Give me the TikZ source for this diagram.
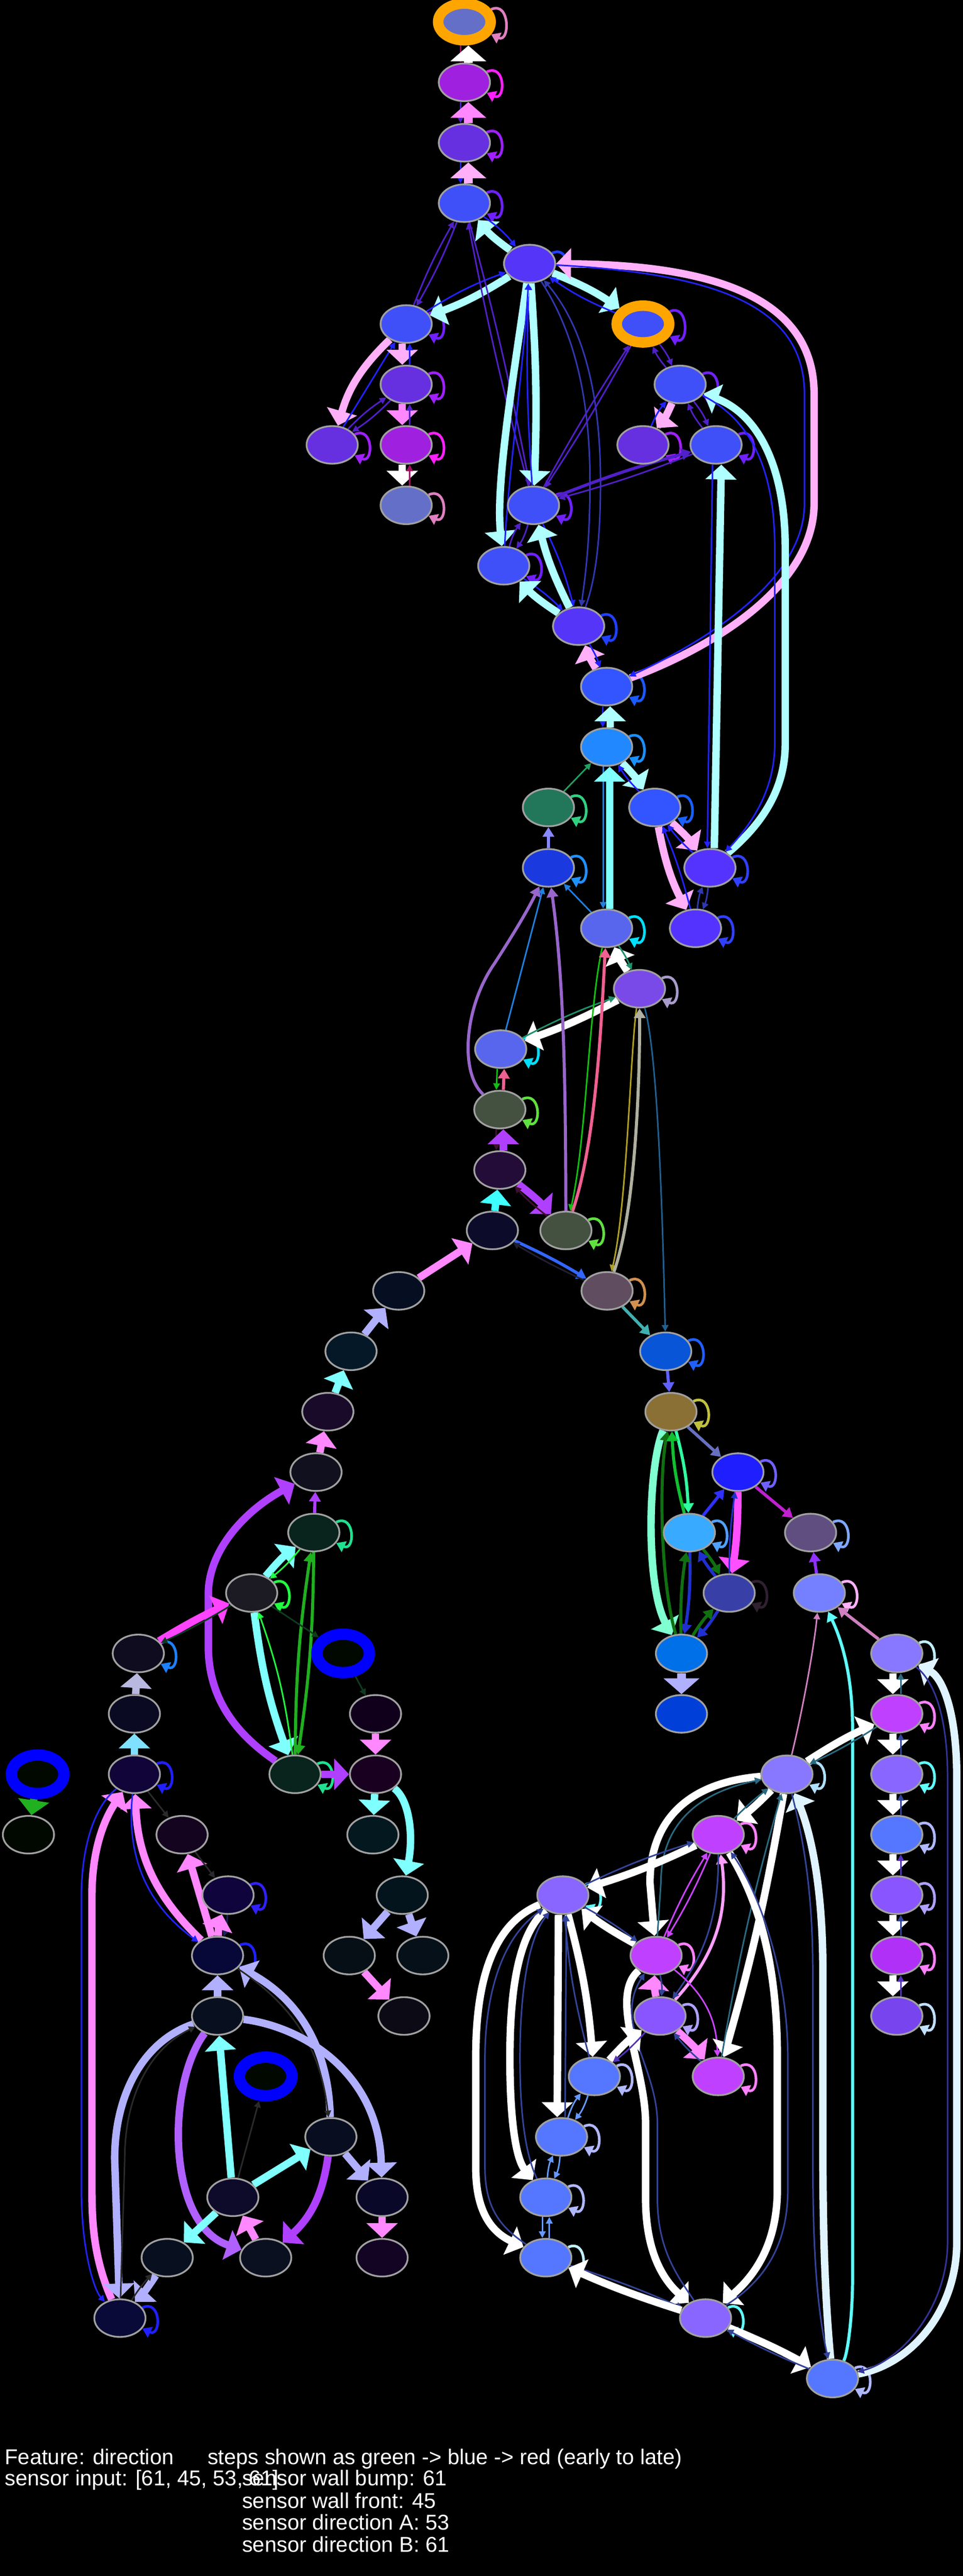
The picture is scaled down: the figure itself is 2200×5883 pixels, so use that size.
\documentclass[tikz,border=0pt]{standalone}
\usepackage{fontspec}
\setmainfont{Liberation Sans}
\usetikzlibrary{shapes.geometric,arrows.meta}
\pgfdeclarelayer{back}
\pgfdeclarelayer{bg}
\pgfsetlayers{back,bg,main}
\definecolor{ndb}{HTML}{A0A0A0}
\definecolor{orng}{HTML}{FFA500}
\definecolor{cyL}{HTML}{B0FFFF}
\definecolor{cyM}{HTML}{80FFFF}
\definecolor{cyB}{HTML}{40FFFF}
\definecolor{pkL}{HTML}{FFB0F8}
\definecolor{pkM}{HTML}{FF88FF}
\definecolor{mag}{HTML}{FF44FF}
\definecolor{puT}{HTML}{5020C8}
\definecolor{blT}{HTML}{2222FF}
\definecolor{dbl}{HTML}{3038B0}
\definecolor{mar}{HTML}{A01060}
\definecolor{lav}{HTML}{B0B0FF}
\definecolor{lavG}{HTML}{B8B8E0}
\definecolor{grT}{HTML}{20A060}
\definecolor{grB}{HTML}{20FF40}
\definecolor{grD}{HTML}{20B020}
\definecolor{puB}{HTML}{B040FF}
\definecolor{lvB}{HTML}{8888FF}
\definecolor{bl2}{HTML}{2080E0}
\definecolor{tea}{HTML}{20906A}
\definecolor{pu9}{HTML}{9966CC}
\definecolor{gr1}{HTML}{10C010}
\definecolor{pk6}{HTML}{F06090}
\definecolor{olv}{HTML}{B0A020}
\definecolor{bge}{HTML}{B0B0A0}
\definecolor{db6}{HTML}{206090}
\definecolor{drk}{HTML}{401030}
\definecolor{bl3}{HTML}{3366FF}
\definecolor{dk2}{HTML}{202030}
\definecolor{te4}{HTML}{40B0B0}
\definecolor{b66}{HTML}{6060FF}
\definecolor{s67}{HTML}{6670C0}
\definecolor{aqu}{HTML}{80FFD0}
\definecolor{dg7}{HTML}{107010}
\definecolor{aq3}{HTML}{30FFA0}
\definecolor{g13}{HTML}{10C030}
\definecolor{b33}{HTML}{3030FF}
\definecolor{m5}{HTML}{FF50FF}
\definecolor{b2d}{HTML}{2030D0}
\definecolor{c2d}{HTML}{C020D0}
\definecolor{p93}{HTML}{9030FF}
\definecolor{pk8}{HTML}{D080C0}
\definecolor{cy6}{HTML}{60FFFF}
\definecolor{lcy}{HTML}{E0F4FF}
\definecolor{d39}{HTML}{333399}
\definecolor{t2a}{HTML}{2A6A80}
\definecolor{d34}{HTML}{334499}
\definecolor{p53}{HTML}{5533BB}
\definecolor{mc}{HTML}{CC44FF}
\definecolor{pkA}{HTML}{FFA0FF}
\definecolor{lb6}{HTML}{6699FF}
\definecolor{dg1}{HTML}{103A20}
\definecolor{ce}{HTML}{80E0FF}
\definecolor{dkk}{HTML}{2A2A2A}
\definecolor{dk6}{HTML}{202060}
\definecolor{puL}{HTML}{B060FF}
\tikzset{
 nd/.style={ellipse, draw=ndb, line width=4pt, minimum width=117pt, minimum height=86pt, inner sep=0pt},
 ringo/.style={ellipse, draw=orng, line width=24pt, minimum width=120pt, minimum height=84pt, inner sep=0pt},
 ringb/.style={ellipse, draw=blue, line width=26pt, minimum width=120pt, minimum height=88pt, inner sep=0pt},
 et/.style={line width=3.5pt, -{Triangle[length=15pt,width=15pt]}},
 em/.style={line width=7pt, -{Triangle[length=22pt,width=26pt]}},
 ek/.style={line width=17pt, -{Triangle[length=34pt,width=70pt]}},
 ex/.style={line width=20pt, -{Triangle[length=36pt,width=80pt]}},
 sl/.style={line width=6pt, -{Triangle[length=20pt,width=26pt]}},
 txt/.style={text=white, font=\fontsize{49}{50}\selectfont, inner sep=0pt, anchor=base west}
}
\newcommand{\nd}[4]{\definecolor{fc#1}{HTML}{#4}\node[nd,fill=fc#1] (#1) at (#2,#3) {};}
\newcommand{\lp}[2]{\definecolor{lc#1}{HTML}{#2}\draw[sl,lc#1] (#1) to[out=25,in=-25,min distance=48pt] (#1);}
\newcommand{\prr}[5]{\draw[#3] (#1) to[bend left=#5] (#2);\draw[#4] (#2) to[bend left=#5] (#1);}
\newcommand{\vp}[6]{\draw[#3] ([xshift=#5pt]#1.south) -- ([xshift=#5pt]#2.north);\draw[#4] ([xshift=#6pt]#2.north) -- ([xshift=#6pt]#1.south);}
\begin{document}
\begin{tikzpicture}[x=1pt,y=-1pt]
\begin{pgfonlayer}{back}
\fill[black] (0,0) rectangle (2200,5883);
\end{pgfonlayer}
\useasboundingbox (0,0) rectangle (2200,5883);
% ---------- nodes ----------
\definecolor{fA1}{HTML}{6470C8}
\node[ringo,fill=fA1] (A1) at (1061,50) {};
\nd{A2}{1061}{188}{A020E0}
\nd{A3}{1061}{326}{6630E0}
\nd{A4}{1061}{464}{4050F8}
\nd{A5}{1210}{602}{5535F8}
\nd{A6}{928}{740}{4050F8}
\definecolor{fA7}{HTML}{4050F8}
\node[ringo,fill=fA7] (A7) at (1469,740) {};
\nd{A8}{928}{878}{6630E0}
\nd{A9}{1554}{878}{4050F8}
\nd{A10}{759}{1016}{6630E0}
\nd{A11}{928}{1016}{A020E0}
\nd{A12}{928}{1154}{6470C8}
\nd{A13}{1469}{1016}{6630E0}
\nd{A14}{1636}{1016}{4050F8}
\nd{A15}{1219}{1154}{4050F8}
\nd{A16}{1151}{1292}{4050F8}
\nd{A17}{1322}{1430}{5535F8}
\nd{A18}{1386}{1568}{3355FF}
\nd{A19}{1386}{1706}{2288FF}
\nd{A20}{1253}{1844}{22775A}
\nd{A21}{1496}{1844}{3355FF}
\nd{A22}{1253}{1982}{1A3AE0}
\nd{A23}{1622}{1982}{5533FF}
\nd{A24}{1386}{2120}{5866EE}
\nd{A25}{1589}{2120}{5533FF}
\nd{A26}{1461}{2258}{7A4AE8}
\nd{A27}{1144}{2396}{5866EE}
\nd{A28}{1142}{2534}{445040}
\nd{A29}{1142}{2672}{240C38}
\nd{A30}{1125}{2810}{0C0C2A}
\nd{A31}{1293}{2810}{445040}
\nd{A32}{1387}{2948}{604E60}
\nd{A33}{1521}{3086}{0855D8}
\nd{A34}{911}{2948}{060E22}
\nd{A35}{1533}{3224}{8B7035}
\nd{A36}{1686}{3362}{1E1EFF}
\nd{A37}{1575}{3500}{38AAFF}
\nd{A38}{1852}{3500}{604E80}
\nd{A39}{1666}{3638}{3840A8}
\nd{A40}{1872}{3638}{7480FF}
\nd{A41}{1557}{3776}{0070E8}
\nd{A42}{1557}{3914}{0040D8}
\nd{A43}{2049}{3776}{8877FF}
\nd{A44}{2049}{3914}{C040FF}
\nd{A45}{2049}{4052}{8866FF}
\nd{A46}{2049}{4190}{5577FF}
\nd{A47}{2049}{4328}{8855FF}
\nd{A48}{2049}{4466}{B030F8}
\nd{A49}{2049}{4604}{7744EE}
\nd{A50}{1798}{4052}{8877FF}
\nd{A51}{1641}{4190}{C040FF}
\nd{A52}{1286}{4328}{8866FF}
\nd{A53}{1499}{4466}{C040FF}
\nd{A54}{1508}{4604}{8855FF}
\nd{A55}{1641}{4742}{C040FF}
\nd{A56}{1358}{4742}{5577FF}
\nd{A57}{1283}{4880}{5577FF}
\nd{A58}{1247}{5018}{5577FF}
\nd{A59}{1247}{5156}{5577FF}
\nd{A60}{1612}{5294}{8866FF}
\nd{A61}{1902}{5432}{5577FF}
\nd{A62}{802}{3086}{041828}
\nd{A63}{749}{3224}{180A28}
\nd{A64}{722}{3362}{10101E}
\nd{A65}{717}{3500}{08241C}
\nd{A66}{575}{3638}{1C1A22}
\definecolor{fdk}{HTML}{000800}
\node[ringb,fill=fdk] (A67) at (784,3776) {};
\nd{A68}{858}{3914}{10001C}
\nd{A69}{674}{4052}{08241C}
\nd{A70}{858}{4052}{1A0020}
\nd{A71}{316}{3776}{100C20}
\nd{A72}{307}{3914}{0A0A22}
\nd{A73}{307}{4052}{100438}
\node[ringb,fill=fdk] (A74) at (86,4052) {};
\nd{A75}{65}{4190}{000800}
\nd{A76}{416}{4190}{140420}
\nd{A77}{852}{4190}{041820}
\nd{A78}{521}{4328}{10043C}
\nd{A79}{919}{4328}{04141C}
\nd{A80}{497}{4466}{080838}
\nd{A81}{798}{4466}{060E16}
\nd{A82}{966}{4466}{061018}
\nd{A83}{497}{4604}{081020}
\nd{A84}{923}{4604}{0C0A14}
\node[ringb,fill=fdk] (A85) at (607,4742) {};
\nd{A86}{756}{4880}{080E20}
\nd{A87}{532}{5018}{0E0A2A}
\nd{A88}{873}{5018}{0A0828}
\nd{A89}{382}{5156}{081020}
\nd{A90}{607}{5156}{0A1020}
\nd{A91}{873}{5156}{140424}
\nd{A92}{274}{5294}{0A0A38}
% ---------- edges ----------
\begin{pgfonlayer}{bg}
% self loops
\lp{A1}{E080C0}\lp{A2}{FF20FF}\lp{A3}{A020FF}\lp{A4}{7020FF}\lp{A5}{2040FF}
\lp{A6}{7020FF}\lp{A7}{7020FF}\lp{A8}{A020FF}\lp{A9}{7020FF}\lp{A10}{A020FF}
\lp{A11}{FF20FF}\lp{A12}{E080C0}\lp{A13}{A020FF}\lp{A14}{7020FF}\lp{A15}{7020FF}
\lp{A16}{7020FF}\lp{A17}{2040FF}\lp{A18}{1A5AFF}\lp{A19}{1A90FF}\lp{A20}{30D080}
\lp{A21}{1A60FF}\lp{A22}{2090FF}\lp{A23}{3040FF}\lp{A24}{00E0FF}\lp{A25}{3040FF}
\lp{A26}{A89CCC}\lp{A27}{00E0FF}\lp{A28}{60E040}\lp{A31}{60E040}\lp{A32}{D09050}
\lp{A33}{2060FF}\lp{A35}{C0C040}\lp{A36}{7060FF}\lp{A37}{50A0FF}\lp{A38}{80A8FF}
\lp{A39}{302030}\lp{A40}{FFB0FF}\lp{A43}{C0F0FF}\lp{A44}{FF80FF}\lp{A45}{60FFFF}
\lp{A46}{B0B8FF}\lp{A47}{B0A0FF}\lp{A48}{FF80FF}\lp{A49}{C0E0FF}\lp{A50}{B0E0FF}
\lp{A51}{FF80FF}\lp{A52}{60FFFF}\lp{A53}{FF80FF}\lp{A54}{B0A0FF}\lp{A55}{FF80FF}
\lp{A56}{B0B8FF}\lp{A57}{B0B8FF}\lp{A58}{B0B8FF}\lp{A59}{C0F0FF}\lp{A60}{60FFFF}
\lp{A61}{B0B8FF}\lp{A65}{20E090}\lp{A66}{20FF40}\lp{A69}{20E090}\lp{A71}{1E80FF}
\lp{A73}{2020FF}\lp{A78}{3020FF}\lp{A80}{2020FF}\lp{A92}{2020FF}
% top
\vp{A1}{A2}{et,mar}{ex,white}{-9}{9}
\vp{A2}{A3}{et,puT}{ex,pkM}{-9}{9}
\vp{A3}{A4}{et,blT}{ex,pkL}{-9}{9}
\prr{A5}{A4}{ek,cyL}{et,blT}{8}
\prr{A5}{A6}{ek,cyL}{et,blT}{6}
\prr{A5}{A7}{ek,cyL}{et,blT}{6}
\prr{A4}{A6}{et,puT}{et,puT}{4}
\prr{A4}{A15}{et,puT}{et,puT}{2}
\prr{A5}{A15}{ek,cyL}{et,blT}{3}
\draw[ek,cyL] (A5) .. controls (1175,850) and (1132,1100) .. (A16);
\draw[et,blT] (A16) .. controls (1160,1100) and (1195,850) .. (A5);
\draw[et,dbl] (A5) .. controls (1300,740) and (1348,880) .. (1348,1100) .. controls (1348,1250) and (1335,1330) .. (A17);
\draw[et,dbl] (A17) .. controls (1358,1330) and (1372,1250) .. (1372,1100) .. controls (1372,870) and (1320,730) .. (A5);
\draw[ek,pkL] (A18) .. controls (1600,1490) and (1860,1350) .. (1860,1150) -- (1860,900) .. controls (1860,690) and (1650,605) .. (A5);
\draw[et,blT] (A5) .. controls (1640,625) and (1838,700) .. (1838,900) -- (1838,1150) .. controls (1838,1330) and (1600,1470) .. (A18);
\prr{A7}{A9}{et,puT}{et,puT}{8}
\prr{A9}{A13}{ek,pkL}{et,blT}{8}
\prr{A9}{A14}{et,puT}{et,puT}{8}
\draw[ek,cyL] (A23) .. controls (1720,1900) and (1794,1820) .. (1794,1700) -- (1794,1250) .. controls (1794,1080) and (1740,950) .. (A9);
\draw[et,blT] (A9) .. controls (1720,960) and (1770,1080) .. (1770,1250) -- (1770,1700) .. controls (1770,1810) and (1710,1890) .. (A23);
\draw[ek,cyL] ([xshift=10pt]A23.north) -- ([xshift=12pt]A14.south);
\draw[et,blT] ([xshift=-8pt]A14.south) -- ([xshift=-6pt]A23.north);
\prr{A15}{A14}{em,puT}{et,puT}{3}
\prr{A7}{A15}{et,puT}{et,puT}{2}
\prr{A15}{A16}{et,puT}{et,puT}{10}
\prr{A15}{A17}{et,blT}{ek,cyL}{6}
\prr{A16}{A17}{et,blT}{ek,cyL}{6}
\draw[ek,pkL] (A6) to[bend right=15] (A10);
\draw[et,blT] (A10) -- (A6);
\prr{A8}{A10}{et,puT}{et,puT}{6}
\vp{A6}{A8}{ek,pkL}{et,blT}{-9}{8}
\vp{A8}{A11}{ek,pkM}{et,puT}{-9}{8}
\vp{A11}{A12}{ek,white}{et,mar}{-9}{8}
\prr{A18}{A17}{ek,pkL}{et,blT}{6}
\vp{A18}{A19}{et,blT}{ek,cyL}{-9}{8}
\draw[et,grT] (A20) -- (A19);
\prr{A19}{A21}{ek,cyL}{et,blT}{6}
\draw[em,lvB] (A22) -- (A20);
\vp{A19}{A24}{et,bl2}{ek,cyM}{-8}{7}
\draw[et,bl2] (A24) -- (A22);
\prr{A21}{A23}{ek,pkL}{et,blT}{6}
\draw[ek,pkL] (A21) to[bend right=8] (A25);
\draw[et,blT] (A25) to[bend right=4] (A21);
\prr{A23}{A25}{et,dbl}{et,dbl}{8}
% middle
\prr{A26}{A24}{ek,white}{et,tea}{6}
\prr{A26}{A27}{ek,white}{et,tea}{4}
\draw[em,pu9] (A28) .. controls (1050,2450) and (1060,2300) .. (1130,2200) .. controls (1175,2130) and (1205,2080) .. (A22);
\draw[et,bl2] (A27) -- (A22);
\draw[em,pu9] (A31) .. controls (1292,2500) and (1290,2250) .. (A22);
\draw[et,gr1] (A24) .. controls (1345,2300) and (1340,2600) .. (A31);
\draw[em,pk6] (A31) .. controls (1365,2600) and (1375,2300) .. (A24);
\draw[et,olv] (A26) .. controls (1440,2400) and (1433,2750) .. (A32);
\draw[em,bge] (A32) .. controls (1458,2750) and (1462,2400) .. (A26);
\draw[et,db6] (A26) .. controls (1500,2400) and (1512,2700) .. (A33);
\vp{A27}{A28}{et,gr1}{em,pk6}{-8}{8}
\vp{A28}{A29}{et,drk}{ek,puB}{-8}{8}
\draw[ek,cyB] (A30) -- (A29);
\prr{A29}{A31}{ek,puB}{et,drk}{5}
\draw[ek,pkM] (A34) -- (A30);
\prr{A30}{A32}{em,bl3}{et,dk2}{3}
\draw[em,te4] (A32) -- (A33);
% middle right
\draw[em,b66] (A33) -- (A35);
\draw[em,s67] (A35) -- (A36);
\draw[ek,aqu] (A35) .. controls (1480,3350) and (1475,3620) .. (A41);
\draw[em,dg7] (A41) .. controls (1510,3620) and (1505,3380) .. (A35);
\prr{A35}{A37}{em,aq3}{em,g13}{6}
\draw[em,b33] (A37) -- (A36);
\prr{A36}{A39}{ek,m5}{et,b2d}{4}
\draw[em,c2d] (A36) -- (A38);
\prr{A37}{A39}{em,dg7}{em,b2d}{6}
\prr{A37}{A41}{em,b2d}{em,dg7}{5}
\prr{A39}{A41}{em,b2d}{em,dg7}{6}
\draw[em,p93] (A40) -- (A38);
\draw[ex,lav] (A41) -- (A42);
\draw[et,pk8] (A50) .. controls (1835,3900) and (1860,3760) .. (A40);
\draw[em,cy6] (A61) .. controls (1935,5380) and (1948,5300) .. (1948,5200) -- (1948,3950) .. controls (1948,3830) and (1925,3750) .. (A40);
\draw[em,pk8] (A43) -- (A40);
\draw[ek,lcy] (A61) .. controls (2080,5400) and (2186,5280) .. (2186,5120) -- (2186,4060) .. controls (2186,3900) and (2150,3830) .. (A43);
\draw[et,d39] (A43) .. controls (2125,3830) and (2165,3900) .. (2165,4060) -- (2165,5120) .. controls (2165,5270) and (2060,5390) .. (A61);
% bottom right
\vp{A43}{A44}{ek,white}{et,t2a}{-9}{9}
\vp{A44}{A45}{ek,white}{et,d34}{-9}{9}
\vp{A45}{A46}{ek,white}{et,d34}{-9}{9}
\vp{A46}{A47}{ek,white}{et,p53}{-9}{9}
\vp{A47}{A48}{ek,white}{et,d34}{-9}{9}
\vp{A48}{A49}{ek,white}{et,p53}{-9}{9}
\prr{A50}{A44}{ek,white}{et,t2a}{4}
\prr{A50}{A51}{ek,white}{et,t2a}{4}
\draw[ek,white] (A50) .. controls (1580,4070) and (1485,4150) .. (1485,4300) -- (A53);
\draw[et,t2a] (A53) -- (1510,4300) .. controls (1510,4170) and (1590,4095) .. (A50);
\prr{A51}{A52}{ek,white}{et,d34}{4}
\prr{A53}{A52}{ek,white}{et,d34}{4}
\prr{A51}{A53}{et,mc}{et,mc}{4}
\draw[em,pkA] (A54) to[bend right=25] (A51);
\draw[et,d34] (A51) to[bend left=18] (A54);
\prr{A54}{A53}{ek,pkM}{et,d34}{8}
\prr{A54}{A55}{ek,pkM}{et,d34}{5}
\draw[et,mc] (A53) to[bend left=25] (A55);
\prr{A50}{A55}{ek,white}{et,t2a}{3}
\draw[ek,white] (A51) .. controls (1740,4350) and (1776,4500) .. (1776,4700) -- (1776,5000) .. controls (1776,5130) and (1720,5200) .. (A60);
\draw[et,d34] (A60) .. controls (1745,5210) and (1800,5130) .. (1800,5000) -- (1800,4700) .. controls (1800,4480) and (1720,4300) .. (A51);
\draw[ek,lcy] (A61) .. controls (1885,5250) and (1880,5100) .. (1880,4900) -- (1880,4500) .. controls (1880,4300) and (1850,4180) .. (A50);
\draw[et,d34] (A50) .. controls (1830,4180) and (1857,4300) .. (1857,4500) -- (1857,4900) .. controls (1857,5100) and (1862,5250) .. (A61);
\draw[ek,white] (A53) .. controls (1390,4560) and (1475,4720) .. (1475,4850) -- (1475,5020) .. controls (1475,5150) and (1520,5210) .. (A60);
\draw[et,d34] (A60) .. controls (1550,5200) and (1502,5140) .. (1502,5020) -- (1502,4850) .. controls (1502,4720) and (1400,4620) .. (A53);
\prr{A52}{A56}{ek,white}{et,d34}{5}
\prr{A56}{A54}{ek,white}{et,p53}{5}
\vp{A52}{A57}{ek,white}{et,d34}{-10}{8}
\prr{A56}{A57}{et,lb6}{et,lb6}{10}
\prr{A57}{A58}{et,lb6}{et,lb6}{10}
\vp{A58}{A59}{et,lb6}{et,lb6}{-8}{8}
\draw[ek,white] (A52) .. controls (1180,4420) and (1165,4560) .. (1165,4700) .. controls (1165,4850) and (1180,4930) .. (A58);
\draw[et,d34] (A58) .. controls (1205,4930) and (1188,4850) .. (1188,4700) .. controls (1188,4560) and (1205,4430) .. (A52);
\draw[ek,white] (A52) .. controls (1110,4400) and (1087,4560) .. (1087,4700) -- (1087,4950) .. controls (1087,5060) and (1130,5100) .. (A59);
\draw[et,d34] (A59) .. controls (1150,5090) and (1108,5050) .. (1108,4950) -- (1108,4700) .. controls (1108,4570) and (1140,4430) .. (A52);
\prr{A59}{A60}{et,d34}{ek,white}{3}
\prr{A60}{A61}{ek,white}{et,d34}{3}
% left middle
\draw[ek,lav] (A62) -- (A34);
\draw[ek,cyM] (A63) -- (A62);
\draw[ek,pkM] (A64) -- (A63);
\draw[em,puB] (A65) -- (A64);
\draw[ek,puB] (A69) .. controls (540,3960) and (476,3880) .. (476,3760) -- (476,3640) .. controls (476,3540) and (560,3450) .. (A64);
\prr{A66}{A65}{ek,cyM}{et,grB}{6}
\draw[ek,cyM] (A66) to[bend right=6] (A69);
\draw[et,grB] (A69) to[bend right=6] (A66);
\prr{A65}{A69}{em,grD}{em,grD}{4}
\draw[et,dg1] (A66) -- (A67);
\draw[et,dg1] (A67) -- (A68);
\draw[ek,puB] (A69) -- (A70);
\draw[ek,pkM] (A68) -- (A70);
\draw[ek,cyM] (A70) -- (A77);
\draw[ek,cyM] (A70) .. controls (935,4110) and (945,4190) .. (A79);
\draw[ek,lav] (A79) -- (A81);
\draw[ek,lav] (A79) -- (A82);
\draw[ek,pkM] (A81) -- (A84);
% left
\prr{A71}{A66}{ek,mag}{et,dg1}{3}
\draw[ek,lavG] (A72) -- (A71);
\draw[ek,ce] (A73) -- (A72);
\draw[ek,grD] (A74) -- (A75);
\draw[ek,pkM] (A92) .. controls (215,5160) and (210,5080) .. (210,5000) -- (210,4330) .. controls (210,4230) and (235,4160) .. (A73);
\draw[et,blT] (A73) .. controls (210,4130) and (186,4230) .. (186,4330) -- (186,5000) .. controls (186,5140) and (215,5230) .. (A92);
\draw[ek,pkM] (A80) to[bend left=22] (A73);
\draw[et,blT] (A73) to[bend right=30] (A80);
\draw[et,dkk] (A73) -- (A76);
\draw[ek,pkM] (A80) -- (A76);
\draw[et,dkk] (A76) -- (A78);
\prr{A78}{A80}{et,dk6}{ek,pkM}{8}
\draw[ek,lav] (A83) -- (A80);
\draw[ek,lav] (A86) to[bend right=30] (A80);
\draw[et,dkk] (A80) to[bend left=25] (A86);
\draw[ek,lav] (A83) .. controls (330,4660) and (262,4780) .. (262,4930) -- (A92);
\draw[et,dkk] (A92) -- (285,4930) .. controls (285,4790) and (340,4680) .. (A83);
\draw[ek,lav] (A83) .. controls (700,4630) and (866,4740) .. (A88);
\draw[ek,puL] (A83) .. controls (380,4760) and (380,5080) .. (A90);
\draw[ek,cyM] (A87) -- (A83);
\draw[et,dkk] (A87) -- (A85);
\draw[ek,cyM] (A87) -- (A86);
\draw[ek,cyM] (A87) -- (A89);
\draw[ek,pkM] (A90) -- (A87);
\draw[ek,puB] (A86) to[bend left=20] (A90);
\draw[ek,lav] (A86) -- (A88);
\draw[ek,pkM] (A88) -- (A91);
\prr{A89}{A92}{ek,lav}{et,dkk}{5}
\end{pgfonlayer}
% ---------- text ----------
\node[txt] (t1) at (11,5628) {Feature: direction};
\node[txt] (t2) at (474,5628) {steps shown as green -> blue -> red (early to late)};
\node[txt] (t3) at (11,5677) {sensor input: [61, 45, 53, 61]};
\node[txt] (t4) at (553,5677) {sensor wall bump: 61};
\node[txt] (t5) at (553,5728) {sensor wall front: 45};
\node[txt] (t6) at (553,5778) {sensor direction A: 53};
\node[txt] (t7) at (553,5828) {sensor direction B: 61};
\end{tikzpicture}
\end{document}
